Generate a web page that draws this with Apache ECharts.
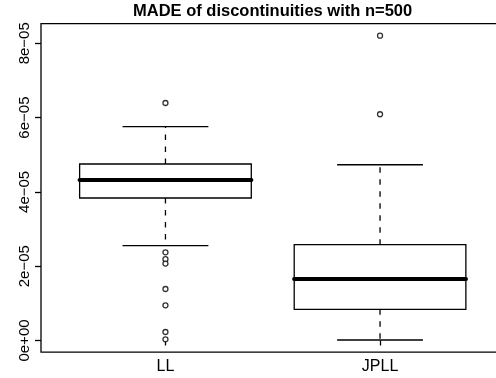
<!DOCTYPE html>
<html><head><meta charset="utf-8">
<script src="https://cdn.jsdelivr.net/npm/echarts@6/dist/echarts.min.js"></script>
<style>html,body{margin:0;padding:0;background:#fff}#c{width:496px;height:378px}</style>
</head><body><div id="c"></div>
<script>
// ---- data ----
const categories = ['LL', 'JPLL'];
const categoryPositions = [1, 2];
const lowerWhisker = [2.552e-5, 0.013e-5];
const q1 = [3.836e-5, 0.84e-5];
const median = [4.32e-5, 1.655e-5];
const q3 = [4.751e-5, 2.58e-5];
const upperWhisker = [5.755e-5, 4.73e-5];
const llOutliers = [6.393e-5, 2.374e-5, 2.19e-5, 2.07e-5, 1.386e-5, 0.947e-5, 0.229e-5, 0.032e-5];
const jpllOutliers = [8.205e-5, 6.09e-5];
const yTickValues = [0, 2e-5, 4e-5, 6e-5, 8e-5];
const yTickLabels = ['0e+00', '2e\u221205', '4e\u221205', '6e\u221205', '8e\u221205'];
const titleText = 'MADE of discontinuities with n=500';

// ---- build ----
const boxData = categories.map((c, i) => [categoryPositions[i], lowerWhisker[i], q1[i], median[i], q3[i], upperWhisker[i]]);
const outlierData = [];
llOutliers.forEach(v => outlierData.push([categoryPositions[0], v]));
jpllOutliers.forEach(v => outlierData.push([categoryPositions[1], v]));

const FONT = 'Liberation Sans, Arial, Helvetica, sans-serif';
const BOXW = 0.8, CAPW = 0.4, LW = 1.3;

function renderBox(params, api) {
  const x = api.value(0);
  const pLo = api.coord([x, api.value(1)]);
  const pQ1 = api.coord([x, api.value(2)]);
  const pMd = api.coord([x, api.value(3)]);
  const pQ3 = api.coord([x, api.value(4)]);
  const pHi = api.coord([x, api.value(5)]);
  const hb = api.size([BOXW, 0])[0] / 2;
  const hc = api.size([CAPW, 0])[0] / 2;
  const cx = pMd[0];
  const solid = {stroke: '#000', lineWidth: LW, fill: null};
  const dashed = {stroke: '#000', lineWidth: LW, lineDash: [5.5, 6.5], fill: null};
  return {
    type: 'group',
    children: [
      {type: 'line', shape: {x1: cx, y1: pQ3[1], x2: cx, y2: pHi[1]}, style: dashed},
      {type: 'line', shape: {x1: cx, y1: pQ1[1], x2: cx, y2: pLo[1]}, style: dashed},
      {type: 'line', shape: {x1: cx - hc, y1: pHi[1], x2: cx + hc, y2: pHi[1]}, style: solid},
      {type: 'line', shape: {x1: cx - hc, y1: pLo[1], x2: cx + hc, y2: pLo[1]}, style: solid},
      {type: 'rect', shape: {x: cx - hb, y: pQ3[1], width: 2 * hb, height: pQ1[1] - pQ3[1]}, style: {stroke: '#000', lineWidth: LW, fill: 'none'}},
      {type: 'line', shape: {x1: cx - hb, y1: pMd[1], x2: cx + hb, y2: pMd[1]}, style: {stroke: '#000', lineWidth: 4.2, lineCap: 'round'}}
    ]
  };
}

const chart = echarts.init(document.getElementById('c'), null, {renderer: 'canvas'});
chart.setOption({
  backgroundColor: '#fff',
  animation: false,
  title: {
    text: titleText, left: 133, top: 3, padding: 0,
    textStyle: {fontFamily: FONT, fontWeight: 'bold', fontSize: 16.5, color: '#000'}
  },
  grid: {left: 41, width: 463.5, top: 23.6, height: 328.6, show: true, borderColor: '#000', borderWidth: LW, backgroundColor: 'transparent', containLabel: false, outerBoundsMode: 'none'},
  xAxis: {
    type: 'value', min: 0.42, max: 2.58,
    splitLine: {show: false}, axisLine: {show: false},
    axisTick: {show: true, customValues: categoryPositions, length: 5, lineStyle: {color: '#000', width: LW}},
    axisLabel: {show: true, customValues: categoryPositions, margin: 6, color: '#000', fontFamily: FONT, fontSize: 16,
      formatter: v => { const i = categoryPositions.indexOf(Math.round(v)); return i >= 0 ? categories[i] : ''; }}
  },
  yAxis: {
    type: 'value', min: -0.315e-5, max: 8.53e-5,
    splitLine: {show: false}, axisLine: {show: false},
    axisTick: {show: true, customValues: yTickValues, length: 6, lineStyle: {color: '#000', width: LW}},
    axisLabel: {show: true, customValues: yTickValues, rotate: 90, margin: 9, color: '#000', fontFamily: FONT, fontSize: 15,
      formatter: v => { let best = 0, d = Infinity; yTickValues.forEach((t, i) => { const dd = Math.abs(t - v); if (dd < d) { d = dd; best = i; } }); return yTickLabels[best]; }}
  },
  series: [
    {type: 'custom', renderItem: renderBox, data: boxData, encode: {x: 0, y: [1, 2, 3, 4, 5]}, clip: false},
    {type: 'scatter', data: outlierData, symbol: 'circle', symbolSize: 5,
      itemStyle: {color: '#fff', borderColor: '#000', borderWidth: 1.3}}
  ]
});
</script></body></html>
